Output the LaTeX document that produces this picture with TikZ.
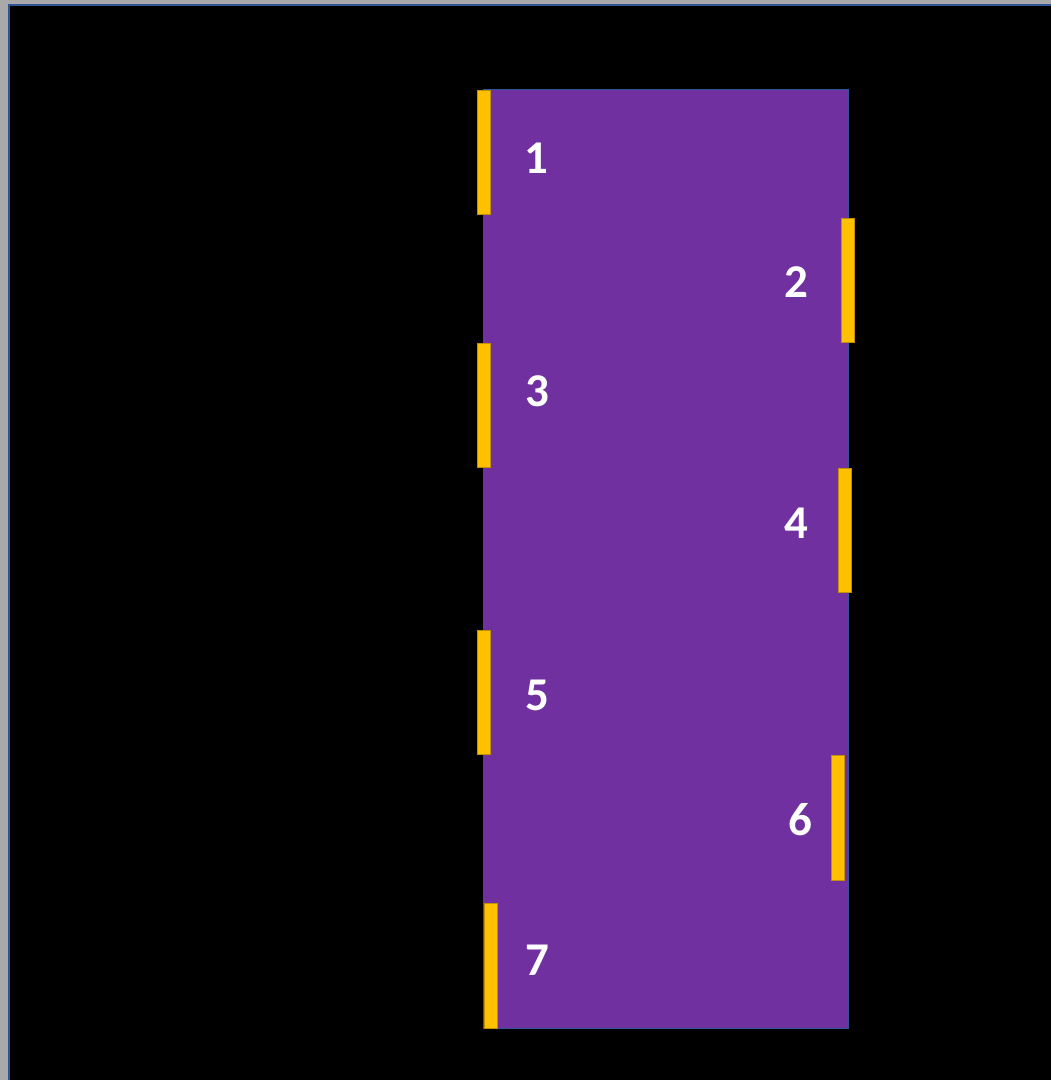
\documentclass[tikz,border=0pt]{standalone}
\usepackage{fontspec}
\setmainfont{Carlito}
\definecolor{bggray}{HTML}{A9A9A9}
\definecolor{edgeblue}{HTML}{2F5597}
\definecolor{boxpurple}{HTML}{7030A0}
\definecolor{baryellow}{HTML}{FFC000}
\definecolor{baredge}{HTML}{C09000}
\tikzset{
  ybar/.style={fill=baryellow, draw=baredge, line width=0.5pt},
  numlabel/.style={text=white, font=\fontsize{47}{47}\selectfont\bfseries, inner sep=0pt, anchor=center}
}
\begin{document}
\begin{tikzpicture}[x=1pt,y=-1pt]
\useasboundingbox (0,0) rectangle (1051,1080);
\fill[bggray] (0,0) rectangle (1051,1080);
\fill[edgeblue] (8,4) rectangle (1051,1080);
\fill[black] (10,6) rectangle (1051,1080);
\node[draw=edgeblue, line width=1.2pt, fill=boxpurple, minimum width=365pt, minimum height=939pt, inner sep=0pt, anchor=north west] (box) at (483,89) {};
\path[ybar] (477,90) rectangle (490,214);
\path[ybar] (841,218) rectangle (854,342);
\path[ybar] (477,343) rectangle (490,467);
\path[ybar] (838,468) rectangle (851,592);
\path[ybar] (477,630) rectangle (490,754);
\path[ybar] (831,755) rectangle (844,880);
\path[ybar] (484,903) rectangle (497,1028);
\node[numlabel] (n1) at (536,158) {1};
\node[numlabel] (n2) at (796,282) {2};
\node[numlabel] (n3) at (537,391) {3};
\node[numlabel] (n4) at (796,523) {4};
\node[numlabel] (n5) at (537,695) {5};
\node[numlabel] (n6) at (800,820) {6};
\node[numlabel] (n7) at (537,960) {7};
\end{tikzpicture}
\end{document}
